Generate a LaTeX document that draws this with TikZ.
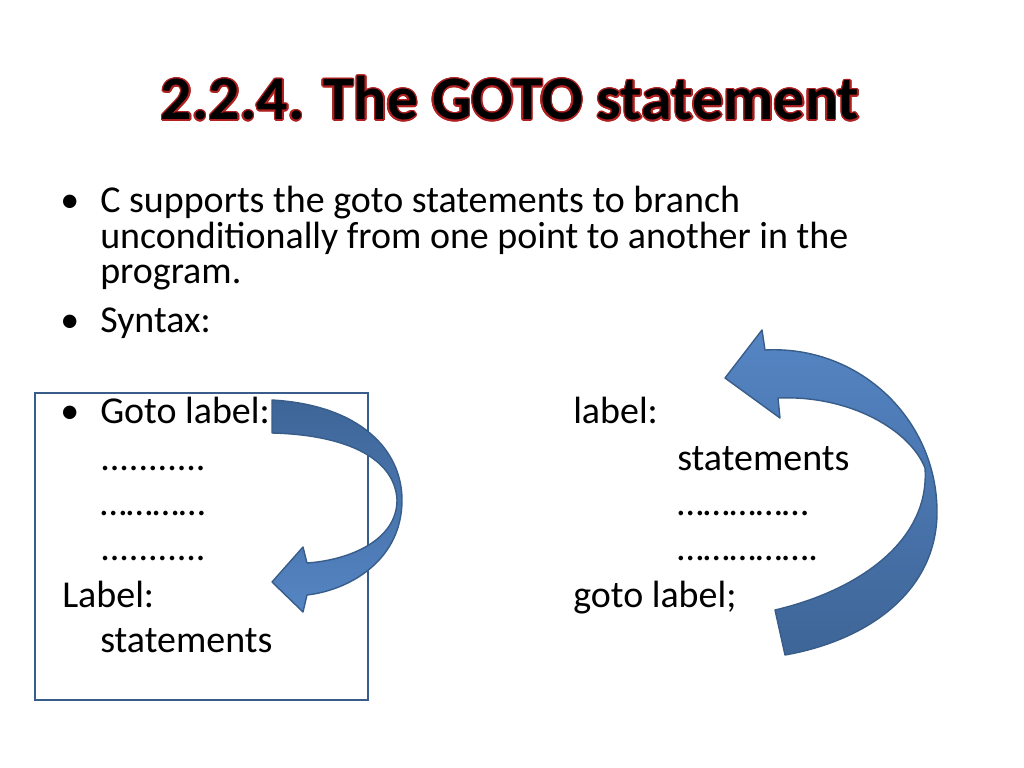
\documentclass[tikz,border=0pt]{standalone}
\usepackage{fontspec}
\setmainfont{Carlito}
\usepackage{contour}
\contournumber{16}
\usetikzlibrary{positioning}
\definecolor{arrowdark}{HTML}{3E6597}
\definecolor{arrowlight}{HTML}{5585C4}
\definecolor{arrowline}{HTML}{385D8A}
\definecolor{titlered}{HTML}{B02020}
\tikzset{
  body/.style={anchor=base west, inner sep=0, font=\fontsize{27}{31}\selectfont},
  curlarrow/.style={draw=arrowline, line width=1pt, line join=round}
}
\newcommand{\codeline}{\node[body]}

\begin{document}
\begin{tikzpicture}[x=0.025cm,y=-0.025cm]
	\useasboundingbox (0,0) rectangle (1024,768);

	\node (title) at (510,99) {\fontsize{44}{48}\bfseries\contourlength{1.1pt}\contour{titlered}{2.2.4. The GOTO statement}};

	\codeline (b1) at (60,212) {\textbullet};
	\codeline (l1) at (100,212) {C supports the goto statements to branch};
	\codeline (l2) at (100,248) {unconditionally from one point to another in the};
	\codeline (l3) at (100,283) {program.};
	\codeline (b2) at (60,332) {\textbullet};
	\codeline (l4) at (100,332) {Syntax:};

	\node[draw=arrowline, line width=1.5pt, minimum width=333*0.025cm, minimum height=307*0.025cm, anchor=north west, inner sep=0] (box) at (34,392) {};
	\codeline (b3) at (60,423) {\textbullet};
	\codeline (g1) at (100,423) {Goto label:};
	\codeline (g2) at (100,470) {...........};
	\codeline (g3) at (100,515) {…………};
	\codeline (g4) at (100,560) {...........};
	\codeline (g5) at (62,607) {Label:};
	\codeline (g6) at (100,652) {statements};

	\codeline (r1) at (573,423) {label:};
	\codeline (r2) at (677,470) {statements};
	\codeline (r3) at (677,515) {……………};
	\codeline (r4) at (677,560) {…………….};
	\codeline (r5) at (573,607) {goto label;};

	% left arrow, goto jumps down
	\shade[curlarrow, top color=arrowdark, bottom color=arrowlight]
	  (272,400) .. controls (360,405) and (402,450) .. (402,500)
	  .. controls (402,560) and (350,590) .. (307,595) -- (303,612) -- (272,582) -- (303,547) -- (307,563)
	  .. controls (350,560) and (397,540) .. (397,500)
	  .. controls (395,460) and (350,435) .. (272,433) -- cycle;

	% right arrow, goto jumps back up
	\shade[curlarrow, top color=arrowlight, bottom color=arrowdark]
	  (765,350) .. controls (860,345) and (937,420) .. (937,512)
	  .. controls (937,590) and (870,640) .. (785,655) -- (775,610)
	  .. controls (860,590) and (930,540) .. (925,468)
	  .. controls (910,430) and (850,395) .. (778,398) -- (780,418) -- (725,378) -- (762,330) -- cycle;
\end{tikzpicture}
\end{document}
